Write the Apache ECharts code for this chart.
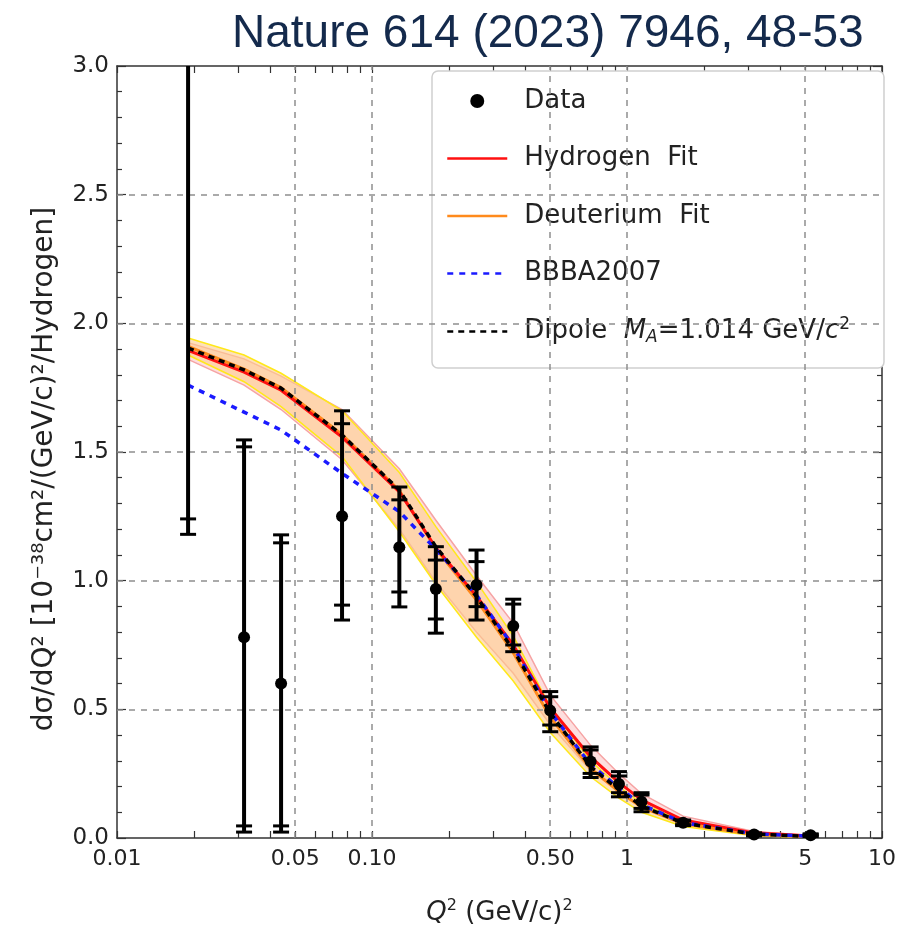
<!DOCTYPE html>
<html>
<head>
<meta charset="utf-8">
<title>Nature 614 (2023) 7946, 48-53</title>
<script src="https://cdn.jsdelivr.net/npm/echarts@6/dist/echarts.min.js"></script>
<style>
  html, body { margin: 0; padding: 0; background: #fff; }
  #chart { width: 915px; height: 928px; }
</style>
</head>
<body>
<div id="chart"></div>
<script>
// measured points (Q^2 in (GeV/c)^2, cross section in 1e-38 cm^2/(GeV/c)^2)
const q2Points = [0.019, 0.0315, 0.044, 0.0763, 0.128, 0.178, 0.257, 0.358, 0.5, 0.72, 0.93, 1.14, 1.66, 3.15, 5.25];
const xsPoints = [3.6, 0.78, 0.60, 1.25, 1.13, 0.968, 0.983, 0.824, 0.495, 0.297, 0.21, 0.141, 0.059, 0.014, 0.011];
const statLow = [1.24, 0.047, 0.047, 0.905, 0.956, 0.851, 0.899, 0.75, 0.439, 0.251, 0.176, 0.115, 0.052, 0.010, 0.008];
const statHigh = [4.9, 1.52, 1.147, 1.61, 1.314, 1.08, 1.074, 0.909, 0.549, 0.342, 0.241, 0.167, 0.066, 0.018, 0.014];
const totLow = [1.18, 0.023, 0.023, 0.847, 0.898, 0.796, 0.847, 0.724, 0.413, 0.235, 0.160, 0.102, 0.048, 0.008, 0.006];
const totHigh = [5.0, 1.547, 1.178, 1.66, 1.364, 1.132, 1.119, 0.928, 0.569, 0.354, 0.258, 0.176, 0.070, 0.020, 0.016];

// curves and bands, read at the same Q^2 knots
const q2Curve = [0.019, 0.0315, 0.044, 0.0763, 0.128, 0.178, 0.257, 0.358, 0.5, 0.72, 0.93, 1.14, 1.66, 3.15, 5.25];
const dipole = [1.904, 1.819, 1.748, 1.566, 1.352, 1.132, 0.938, 0.731, 0.485, 0.277, 0.187, 0.125, 0.058, 0.015, 0.006];
const hydrogenFit = [1.895, 1.81, 1.74, 1.558, 1.345, 1.128, 0.94, 0.75, 0.505, 0.315, 0.215, 0.148, 0.07, 0.02, 0.008];
const deuteriumFit = [1.91, 1.822, 1.75, 1.568, 1.35, 1.125, 0.925, 0.72, 0.47, 0.27, 0.18, 0.12, 0.055, 0.014, 0.005];
const bbba2007 = [1.76, 1.655, 1.585, 1.417, 1.268, 1.122, 0.944, 0.745, 0.49, 0.285, 0.195, 0.13, 0.06, 0.016, 0.007];
const deutBandHi = [1.943, 1.877, 1.806, 1.66, 1.42, 1.21, 0.995, 0.785, 0.51, 0.30, 0.20, 0.135, 0.064, 0.018, 0.007];
const deutBandLo = [1.877, 1.773, 1.676, 1.482, 1.19, 0.985, 0.78, 0.61, 0.41, 0.238, 0.155, 0.10, 0.045, 0.009, 0.002];
const hydBandHi = [1.925, 1.862, 1.795, 1.665, 1.435, 1.235, 1.02, 0.835, 0.555, 0.36, 0.25, 0.172, 0.085, 0.025, 0.01];
const hydBandLo = [1.86, 1.76, 1.665, 1.47, 1.20, 0.995, 0.80, 0.64, 0.44, 0.262, 0.178, 0.118, 0.052, 0.011, 0.003];

// axes
const xLabelValues = [0.01, 0.05, 0.1, 0.5, 1, 5, 10];
const xTickValues = [0.01, 0.02, 0.03, 0.04, 0.05, 0.06, 0.07, 0.08, 0.09,
  0.1, 0.2, 0.3, 0.4, 0.5, 0.6, 0.7, 0.8, 0.9, 1, 2, 3, 4, 5, 6, 7, 8, 9, 10];
const xGridValues = [0.05, 0.1, 0.5, 1, 5];
const yGridValues = [0.5, 1.0, 1.5, 2.0, 2.5];

const FONT = "'DejaVu Sans', 'Liberation Sans', sans-serif";
const AXIS_COLOR = "#333";

function xLabel(v) {
  return v < 1 ? v.toFixed(2) : String(v);
}

function band(name, upper, lower, fill, edge, z) {
  return {
    type: "custom",
    name: name,
    silent: true,
    z: z,
    data: [[q2Curve[0], upper[0]]],
    renderItem: function (params, api) {
      const top = q2Curve.map((q, i) => api.coord([q, upper[i]]));
      const bot = q2Curve.map((q, i) => api.coord([q, lower[i]]));
      return {
        type: "group",
        children: [
          { type: "polygon", shape: { points: top.concat(bot.slice().reverse()) }, style: { fill: fill, stroke: null } },
          { type: "polyline", shape: { points: top }, style: { stroke: edge, lineWidth: 1.5, fill: "none" } },
          { type: "polyline", shape: { points: bot }, style: { stroke: edge, lineWidth: 1.5, fill: "none" } },
        ],
      };
    },
  };
}

function errorBar(params, api) {
  const cs = params.coordSys;
  const yTop = cs.y;
  const yBot = cs.y + cs.height;
  const q = api.value(0);
  const pts = [1, 2, 3, 4].map((k) => api.coord([q, api.value(k)]));
  const x = pts[0][0];
  const half = 8;
  const clamp = (y) => Math.max(yTop, Math.min(yBot, y));
  const children = [
    {
      type: "line",
      shape: { x1: x, y1: clamp(pts[0][1]), x2: x, y2: clamp(pts[3][1]) },
      style: { stroke: "#000", lineWidth: 4 },
    },
  ];
  pts.forEach((p) => {
    if (p[1] >= yTop && p[1] <= yBot) {
      children.push({
        type: "line",
        shape: { x1: x - half, y1: p[1], x2: x + half, y2: p[1] },
        style: { stroke: "#000", lineWidth: 3 },
      });
    }
  });
  return { type: "group", children: children };
}

function curve(name, values, color, width, dash, z) {
  return {
    type: "line",
    name: name,
    data: q2Curve.map((q, i) => [q, values[i]]),
    symbol: "none",
    z: z,
    lineStyle: { color: color, width: width, type: dash },
    itemStyle: { color: color },
  };
}

const DIPOLE_NAME = "Dipole MA=1.014 GeV/c2";

const chart = echarts.init(document.getElementById("chart"), null, { renderer: "canvas" });

const option = {
  animation: false,
  title: {
    text: "Nature 614 (2023) 7946, 48-53",
    left: 227,
    top: 6,
    textStyle: {
      fontFamily: "'Liberation Sans', sans-serif",
      fontSize: 46,
      fontWeight: "normal",
      color: "#142a4c",
    },
  },
  grid: { left: 117, right: 33, top: 66, bottom: 90, outerBoundsMode: "none", containLabel: false },
  legend: {
    orient: "vertical",
    left: 432,
    top: 71,
    backgroundColor: "#fff",
    borderColor: "#cfcfcf",
    borderWidth: 1.5,
    borderRadius: 6,
    padding: [15, 34, 21, 14],
    itemWidth: 60,
    itemHeight: 14,
    itemGap: 27.5,
    selectedMode: false,
    lineStyle: { width: 2.5 },
    data: [
      { name: "Data", icon: "circle", itemStyle: { color: "#000", opacity: 1 } },
      { name: "Hydrogen Fit", itemStyle: { opacity: 0 } },
      { name: "Deuterium Fit", itemStyle: { opacity: 0 } },
      { name: "BBBA2007", itemStyle: { opacity: 0 } },
      { name: DIPOLE_NAME, itemStyle: { opacity: 0 } },
    ],
    formatter: function (name) {
      if (name === DIPOLE_NAME) {
        return "{n|Dipole  }{i|M}{sub|A}{n|=1.014 GeV/}{i|c}{sup|2}";
      }
      if (name.endsWith(" Fit")) return "{n|" + name.replace(" Fit", "  Fit") + "}";
      return "{n|" + name + "}";
    },
    textStyle: {
      fontFamily: FONT,
      fontSize: 26,
      color: "#222",
      padding: [0, 0, 0, 12],
      rich: {
        n: { fontFamily: FONT, fontSize: 26, color: "#222", height: 30, lineHeight: 30 },
        i: { fontFamily: FONT, fontSize: 26, fontStyle: "italic", color: "#222", height: 30, lineHeight: 30 },
        sub: { fontFamily: FONT, fontSize: 17, fontStyle: "italic", color: "#222", lineHeight: 30, padding: [12, 0, 0, 0] },
        sup: { fontFamily: FONT, fontSize: 17, color: "#222", lineHeight: 30, padding: [0, 0, 14, 0] },
      },
    },
  },
  xAxis: [
    {
      type: "log",
      logBase: 10,
      min: 0.01,
      max: 10,
      position: "bottom",
      name: "{i|Q}{s|2}{n| (GeV/c)}{s|2}",
      nameLocation: "middle",
      nameGap: 60,
      nameTextStyle: {
        rich: {
          i: { fontFamily: FONT, fontSize: 26, fontStyle: "italic", color: "#222" },
          n: { fontFamily: FONT, fontSize: 26, color: "#222" },
          s: { fontFamily: FONT, fontSize: 16, color: "#222", padding: [0, 0, 15, 0] },
        },
      },
      axisLine: { show: true, onZero: false, lineStyle: { color: AXIS_COLOR, width: 1.5 } },
      axisTick: { show: true, inside: true, length: 7, customValues: xTickValues, lineStyle: { color: AXIS_COLOR, width: 1.2 } },
      minorTick: { show: false },
      axisLabel: {
        customValues: xLabelValues,
        formatter: xLabel,
        fontFamily: FONT,
        fontSize: 22,
        color: "#222",
        margin: 10,
      },
      splitLine: { show: false },
    },
    {
      type: "log",
      logBase: 10,
      min: 0.01,
      max: 10,
      position: "top",
      axisLine: { show: true, onZero: false, lineStyle: { color: AXIS_COLOR, width: 1.5 } },
      axisTick: { show: true, inside: true, length: 7, customValues: xTickValues, lineStyle: { color: AXIS_COLOR, width: 1.2 } },
      axisLabel: { show: false },
      splitLine: { show: false },
    },
  ],
  yAxis: [
    {
      type: "value",
      min: 0,
      max: 3,
      interval: 0.5,
      position: "left",
      name: "dσ/dQ² [10⁻³⁸cm²/(GeV/c)²/Hydrogen]",
      nameLocation: "middle",
      nameGap: 58,
      nameTextStyle: { fontFamily: FONT, fontSize: 28, color: "#222", padding: [0, 34, 0, 0] },
      axisLine: { show: true, onZero: false, lineStyle: { color: AXIS_COLOR, width: 1.5 } },
      axisTick: { show: true, inside: true, length: 9, lineStyle: { color: AXIS_COLOR, width: 1.2 } },
      minorTick: { show: true, splitNumber: 5, length: 5, lineStyle: { color: AXIS_COLOR, width: 1.2 } },
      axisLabel: { formatter: (v) => v.toFixed(1), fontFamily: FONT, fontSize: 23, color: "#222", margin: 8 },
      splitLine: { show: false },
    },
    {
      type: "value",
      min: 0,
      max: 3,
      interval: 0.5,
      position: "right",
      axisLine: { show: true, onZero: false, lineStyle: { color: AXIS_COLOR, width: 1.5 } },
      axisTick: { show: true, inside: true, length: 9, lineStyle: { color: AXIS_COLOR, width: 1.2 } },
      minorTick: { show: true, splitNumber: 5, length: 5, lineStyle: { color: AXIS_COLOR, width: 1.2 } },
      axisLabel: { show: false },
      splitLine: { show: false },
    },
  ],
  series: [
    {
      type: "line",
      name: "grid",
      data: [],
      silent: true,
      z: 1,
      markLine: {
        symbol: "none",
        silent: true,
        label: { show: false },
        lineStyle: { color: "#8f8f8f", width: 1.5, type: [6, 6] },
        data: xGridValues.map((v) => ({ xAxis: v })).concat(yGridValues.map((v) => ({ yAxis: v }))),
      },
    },
    band("hydrogen band", hydBandHi, hydBandLo, "rgba(248, 160, 160, 0.35)", "#f6a3a3", 2),
    band("deuterium band", deutBandHi, deutBandLo, "rgba(253, 205, 140, 0.6)", "#ffe81a", 3),
    curve("Deuterium Fit", deuteriumFit, "#ff8a1c", 3, "solid", 4),
    curve("Hydrogen Fit", hydrogenFit, "#ff1010", 3, "solid", 5),
    curve("BBBA2007", bbba2007, "#1a1aff", 3.5, [6, 6], 6),
    curve(DIPOLE_NAME, dipole, "#000", 3.5, [6, 5], 7),
    {
      type: "custom",
      name: "errors",
      silent: true,
      z: 8,
      renderItem: errorBar,
      encode: { x: 0, y: 1 },
      data: q2Points.map((q, i) => [q, totLow[i], statLow[i], statHigh[i], totHigh[i]]),
    },
    {
      type: "scatter",
      name: "Data",
      data: q2Points.map((q, i) => [q, xsPoints[i]]),
      symbol: "circle",
      symbolSize: 12,
      itemStyle: { color: "#000", opacity: 1 },
      z: 9,
      clip: true,
    },
  ],
};

chart.setOption(option);
</script>
</body>
</html>
